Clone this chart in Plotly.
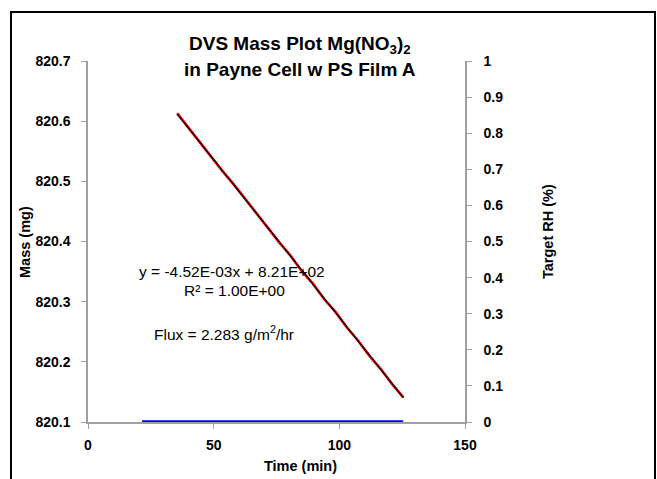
import numpy as np
import plotly.graph_objects as go

# ---- data ----
time_mass = [35.5, 40, 44.5, 49, 53.5, 58, 62.5, 67, 71.5, 76, 80.5, 85, 89.5,
             94, 98.5, 103, 107.5, 112, 116.5, 121, 125.5]
mass_mg = [820.613, 820.589, 820.564, 820.542, 820.517, 820.495, 820.471, 820.446,
           820.424, 820.399, 820.377, 820.351, 820.330, 820.304, 820.283, 820.257,
           820.235, 820.210, 820.188, 820.163, 820.141]
time_rh = [21.5, 125.4]
target_rh = [0, 0]

W, H = 657, 479
L, R, T, B = 88, 465, 61, 422

def px(x):
    return (x - L) / (R - L)

def py(y):
    return (B - y) / (B - T)

coef = np.polyfit(time_mass, mass_mg, 1)
fit_x = [time_mass[0], time_mass[-1]]
fit_y = list(np.polyval(coef, fit_x))

FONT = "Liberation Sans, Arial, sans-serif"

fig = go.Figure()
fig.add_trace(go.Scatter(x=time_rh, y=target_rh, yaxis="y2", mode="lines",
                         line=dict(color="#0000ff", width=3.5), showlegend=False))
fig.add_trace(go.Scatter(x=time_mass, y=mass_mg, mode="lines",
                         line=dict(color="#ff0000", width=2.6), showlegend=False))
fig.add_trace(go.Scatter(x=fit_x, y=fit_y, mode="lines",
                         line=dict(color="#000000", width=1.3), showlegend=False))

axis_common = dict(showgrid=False, zeroline=False, showline=True, linecolor="#a0a0a0",
                   linewidth=1.5, ticks="outside", ticklen=5, tickcolor="#a0a0a0",
                   tickfont=dict(family=FONT, size=14, color="black", weight="bold"))

fig.update_layout(
    width=W, height=H,
    margin=dict(l=L, r=W - R, t=T, b=H - B, pad=0),
    paper_bgcolor="white", plot_bgcolor="white",
    xaxis=dict(range=[0, 150], dtick=50, tick0=0, ticklabelstandoff=4, **axis_common),
    yaxis=dict(range=[820.1, 820.7], dtick=0.1, tick0=820.1, tickformat=".1f",
               ticklabelstandoff=8, **axis_common),
    yaxis2=dict(range=[0, 1], dtick=0.1, tick0=0, overlaying="y", side="right",
                ticklabelstandoff=9, **axis_common),
    shapes=[dict(type="rect", xref="paper", yref="paper",
                 x0=px(11), x1=px(655), y0=py(490), y1=py(12),
                 line=dict(color="black", width=2))],
)

ann = [
    dict(text="<b>DVS Mass Plot Mg(NO<sub>3</sub>)<sub>2</sub></b>", x=px(300), y=py(45), size=19),
    dict(text="<b>in Payne Cell w PS Film A</b>", x=px(300), y=py(69), size=19),
    dict(text="y = -4.52E-03x + 8.21E+02", x=px(232), y=py(271), size=15.5),
    dict(text="R² = 1.00E+00", x=px(234), y=py(290), size=15.5),
    dict(text="Flux = 2.283 g/m<sup>2</sup>/hr", x=px(224), y=py(333), size=15.5),
    dict(text="<b>Time (min)</b>", x=px(300), y=py(466), size=14.5),
]
for a in ann:
    fig.add_annotation(text=a["text"], x=a["x"], y=a["y"], xref="paper", yref="paper",
                       showarrow=False, xanchor="center", yanchor="middle",
                       font=dict(family=FONT, size=a["size"], color="black"))
fig.add_annotation(text="<b>Mass (mg)</b>", x=px(25), y=py(242), xref="paper", yref="paper",
                   showarrow=False, textangle=-90, xanchor="center", yanchor="middle",
                   font=dict(family=FONT, size=14.5, color="black"))
fig.add_annotation(text="<b>Target RH (%)</b>", x=px(548), y=py(232), xref="paper", yref="paper",
                   showarrow=False, textangle=-90, xanchor="center", yanchor="middle",
                   font=dict(family=FONT, size=14.5, color="black"))

fig.write_html("out.html")
